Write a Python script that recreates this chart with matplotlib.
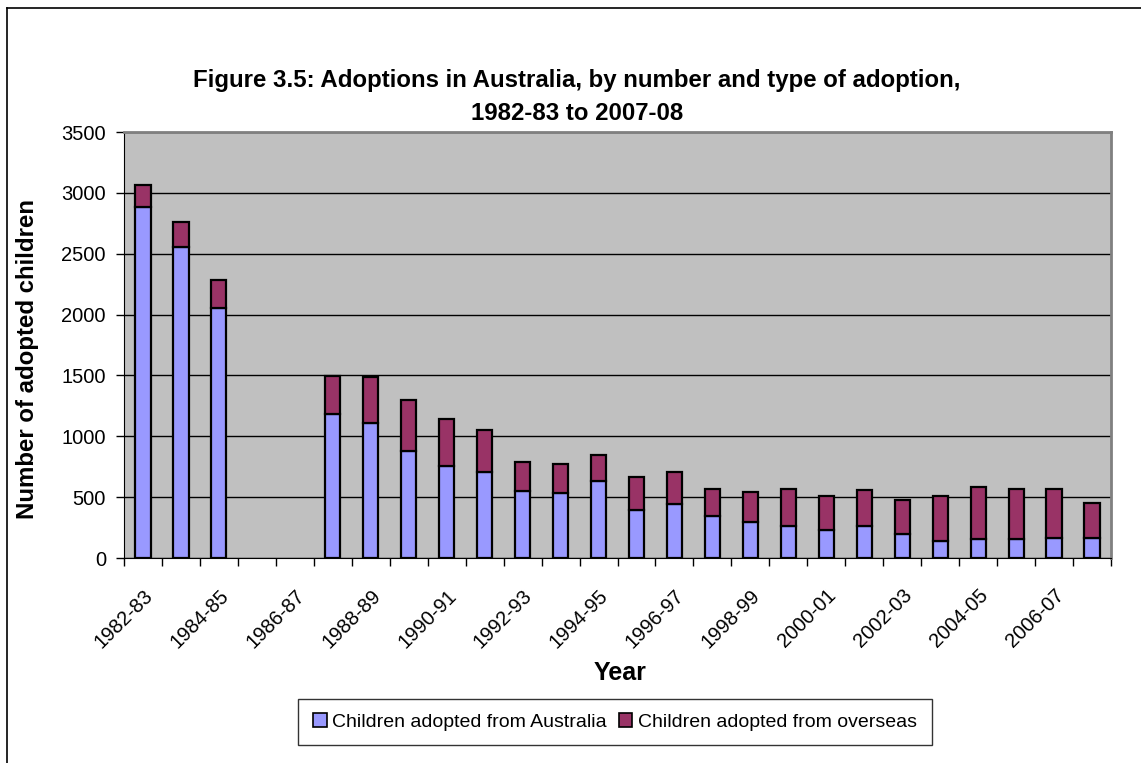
import numpy as np
import matplotlib
matplotlib.use("Agg")
import matplotlib.pyplot as plt
from matplotlib import font_manager
from matplotlib.lines import Line2D
from matplotlib.patches import Patch

years = ['1982-83', '1983-84', '1984-85', '1985-86', '1986-87', '1987-88',
         '1988-89', '1989-90', '1990-91', '1991-92', '1992-93', '1993-94',
         '1994-95', '1995-96', '1996-97', '1997-98', '1998-99', '1999-00',
         '2000-01', '2001-02', '2002-03', '2003-04', '2004-05', '2005-06',
         '2006-07', '2007-08']

# no data collected for 1985-86 and 1986-87
from_australia = [2880, 2556, 2050, np.nan, np.nan, 1186, 1109, 876, 753, 707,
                  554, 535, 630, 398, 447, 341, 294, 261, 234, 261,
                  198, 138, 154, 154, 168, 168]
from_overseas = [185, 203, 233, np.nan, np.nan, 309, 381, 419, 389, 342,
                 232, 235, 219, 265, 263, 229, 246, 309, 276, 295,
                 279, 372, 433, 416, 402, 282]

installed = {f.name for f in font_manager.fontManager.ttflist}
narrow = 'Liberation Sans Narrow' if 'Liberation Sans Narrow' in installed else 'Liberation Sans'
plt.rcParams['font.family'] = ['Liberation Sans', 'DejaVu Sans']

W, H = 1141, 763
fig = plt.figure(figsize=(W / 100, H / 100), dpi=100)
fig.patch.set_facecolor('white')

# outer chart frame (left and top edges)
fig.add_artist(Line2D([7 / W, 7 / W], [0, 1 - 8 / H], transform=fig.transFigure, color='black', lw=1.2))
fig.add_artist(Line2D([7 / W, 1], [1 - 8 / H, 1 - 8 / H], transform=fig.transFigure, color='black', lw=1.2))

left, right, top, bottom = 124, 1111, 132, 558
ax = fig.add_axes([left / W, 1 - bottom / H, (right - left) / W, (bottom - top) / H])
ax.set_facecolor('#C0C0C0')

x = np.arange(len(years))
aus = np.array(from_australia, dtype=float)
ovs = np.array(from_overseas, dtype=float)
ok = ~np.isnan(aus)

bw = 0.4
ax.bar(x[ok], aus[ok], width=bw, color='#9999FF', edgecolor='black', linewidth=1.6, zorder=3)
ax.bar(x[ok], ovs[ok], width=bw, bottom=aus[ok], color='#993366', edgecolor='black', linewidth=1.6, zorder=3)

ax.set_ylim(0, 3500)
ax.set_xlim(-0.5, len(years) - 0.5)
ax.set_yticks(np.arange(0, 3501, 500))
ax.yaxis.grid(True, color='black', linewidth=1)
ax.set_axisbelow(True)
ax.tick_params(axis='y', direction='out', length=6, width=1, labelsize=14.5, pad=7)

# tick marks between categories, labels on every second category
ax.set_xticks(np.arange(-0.5, len(years), 1))
ax.set_xticklabels([])
ax.tick_params(axis='x', which='major', direction='out', length=6, width=1)
ax.set_xticks(x[::2], minor=True)
ax.set_xticklabels(years[::2], minor=True, rotation=45, ha='right', va='top',
                   rotation_mode='anchor', fontsize=14.5, family=narrow)
ax.tick_params(axis='x', which='minor', length=0, pad=20)

for side in ['top', 'right']:
    ax.spines[side].set_color('#808080')
    ax.spines[side].set_linewidth(2)
ax.spines['left'].set_color('black')
ax.spines['bottom'].set_color('black')

fig.text(577 / W, 1 - 80 / H, 'Figure 3.5: Adoptions in Australia, by number and type of adoption,',
         ha='center', va='center', fontsize=17.3, fontweight='bold', family=narrow)
fig.text(577 / W, 1 - 113 / H, '1982-83 to 2007-08',
         ha='center', va='center', fontsize=17.3, fontweight='bold', family=narrow)

fig.text(28 / W, 1 - 359 / H, 'Number of adopted children', rotation=90,
         ha='center', va='center', fontsize=17.3, fontweight='bold')
fig.text(620 / W, 1 - 673 / H, 'Year', ha='center', va='center',
         fontsize=18, fontweight='bold', family=narrow)

handles = [Patch(facecolor='#9999FF', edgecolor='black', linewidth=1.2, label='Children adopted from Australia'),
           Patch(facecolor='#993366', edgecolor='black', linewidth=1.2, label='Children adopted from overseas')]
leg = fig.legend(handles=handles, loc='center', bbox_to_anchor=(615 / W, 1 - 722 / H), ncol=2,
                 frameon=True, fancybox=False, edgecolor='black', handlelength=0.7, handleheight=0.7,
                 handletextpad=0.3, columnspacing=0.6, borderpad=0.75,
                 prop={'family': narrow, 'size': 14})
leg.get_frame().set_linewidth(1)

fig.savefig('out.png', dpi=100)
